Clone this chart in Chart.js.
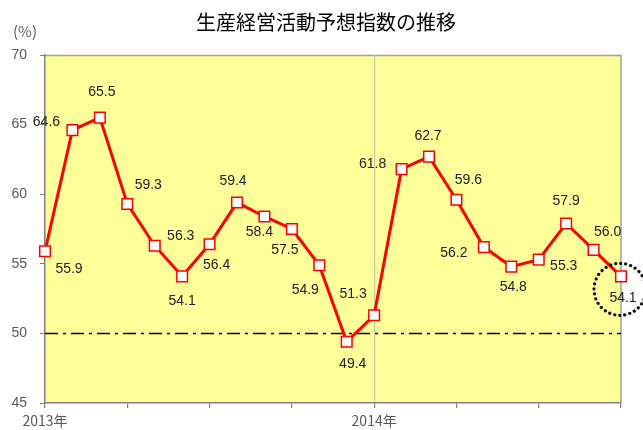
<!DOCTYPE html>
<html><head><meta charset="utf-8">
<script src="https://cdn.jsdelivr.net/npm/chart.js@4.4.1/dist/chart.umd.min.js"></script>
<style>html,body{margin:0;padding:0;background:#fff}#wrap{width:643px;height:430px}</style>
</head><body><div id="wrap"><canvas id="c" width="643" height="430"></canvas></div>
<script>
const TITLE = '生産経営活動予想指数の推移';
const UNIT = '(%)';
const MONTHS = ['2013-01','2013-02','2013-03','2013-04','2013-05','2013-06','2013-07','2013-08','2013-09','2013-10','2013-11','2013-12',
                '2014-01','2014-02','2014-03','2014-04','2014-05','2014-06','2014-07','2014-08','2014-09','2014-10'];
const YEAR_LABELS = {0:'2013年', 12:'2014年'};
const VALUES = [55.9,64.6,65.5,59.3,56.3,54.1,56.4,59.4,58.4,57.5,54.9,49.4,51.3,61.8,62.7,59.6,56.2,54.8,55.3,57.9,56.0,54.1];
// value-label placement relative to each marker (annotation layout, not data)
const LABEL_OFFSETS = [[24,18],[-26,-8],[2,-25],[21,-19],[26,-10],[0,25],[7,21],[-4,-21],[-5,16],[-7,21],[-14,25],
                       [6,22],[-21,-21],[-29,-5],[-1,-20],[12,-20],[-30,6],[2,21],[25,7],[0,-22],[14,-18],[2,22]];
const REF_LEVEL = 50;
const Y_MIN = 45, Y_MAX = 70, Y_STEP = 5;

const extras = {
  id:'extras',
  beforeDraw(chart){
    const {ctx, chartArea:a} = chart;
    ctx.save();
    ctx.fillStyle = '#FFFF99';
    ctx.fillRect(a.left, a.top, a.right-a.left, a.bottom-a.top);
    ctx.strokeStyle = '#a0a0a0'; ctx.lineWidth = 1.5;
    ctx.beginPath(); ctx.moveTo(a.left, a.top+0.5); ctx.lineTo(a.right, a.top+0.5); ctx.lineTo(a.right, a.bottom); ctx.stroke();
    ctx.fillStyle = '#000';
    ctx.font = '20px "Noto Sans CJK JP"';
    ctx.textAlign = 'center'; ctx.textBaseline = 'middle';
    ctx.fillText(TITLE, 326, 22);
    ctx.fillStyle = '#595959';
    ctx.font = '15px "Noto Sans CJK JP"';
    ctx.fillText(UNIT, 25, 31);
    ctx.restore();
  },
  beforeDatasetsDraw(chart){
    const {ctx, chartArea:a, scales:{y}} = chart;
    const py = Math.round(y.getPixelForValue(REF_LEVEL)) + 0.5;
    ctx.save();
    ctx.strokeStyle = '#000'; ctx.lineWidth = 1.5;
    ctx.setLineDash([13,5,3,5]);
    ctx.beginPath(); ctx.moveTo(a.left, py); ctx.lineTo(a.right, py); ctx.stroke();
    ctx.restore();
  },
  afterDatasetsDraw(chart){
    const {ctx} = chart;
    const meta = chart.getDatasetMeta(0);
    ctx.save();
    ctx.fillStyle = '#222';
    ctx.font = '14px "Liberation Sans", Arial, sans-serif';
    ctx.textAlign = 'center'; ctx.textBaseline = 'middle';
    meta.data.forEach((pt, i) => {
      const o = LABEL_OFFSETS[i];
      ctx.fillText(VALUES[i].toFixed(1), pt.x + o[0], pt.y + o[1]);
    });
    const last = meta.data[meta.data.length-1];
    ctx.strokeStyle = '#111'; ctx.lineWidth = 3.2; ctx.lineCap = 'round';
    ctx.setLineDash([0.1, 5]);
    ctx.beginPath(); ctx.arc(last.x - 1, last.y + 13, 26, 0, Math.PI*2); ctx.stroke();
    ctx.restore();
  }
};

new Chart(document.getElementById('c'), {
  type:'line',
  data:{ labels: MONTHS, datasets:[{
    data: VALUES, borderColor:'#FF0000', borderWidth:3, tension:0,
    pointStyle:'rect', pointRadius:7.5, pointBackgroundColor:'#fff', pointBorderColor:'#FF0000', pointBorderWidth:1.5,
    pointHoverRadius:7.5
  }]},
  options:{
    responsive:false, animation:false, devicePixelRatio:1,
    layout:{padding:{top:55, right:22, left:0, bottom:0}},
    plugins:{legend:{display:false}, title:{display:false}, tooltip:{enabled:false}},
    scales:{
      x:{
        offset:false,
        afterFit(s){ s.height = 27; },
        border:{color:'#808080', width:1.5},
        grid:{ drawOnChartArea:true, tickLength:5,
          color:(c)=> c.index===12 ? '#c8c8a8' : 'rgba(0,0,0,0)',
          tickColor:(c)=> c.index%3===0 ? '#808080' : 'rgba(0,0,0,0)', lineWidth:1.2 },
        ticks:{ autoSkip:false, maxRotation:0, padding:4, color:'#595959',
          font:{size:14, family:'"Noto Sans CJK JP"'},
          callback:(v,i)=> YEAR_LABELS[i] || '' }
      },
      y:{
        min:Y_MIN, max:Y_MAX,
        afterFit(s){ s.width = 45; },
        border:{color:'#808080', width:1.5},
        grid:{ drawOnChartArea:false, tickLength:5, tickColor:'#808080' },
        ticks:{ stepSize:Y_STEP, padding:13, color:'#595959', font:{size:14, family:'"Liberation Sans", Arial'} }
      }
    }
  },
  plugins:[extras]
});
</script></body></html>
